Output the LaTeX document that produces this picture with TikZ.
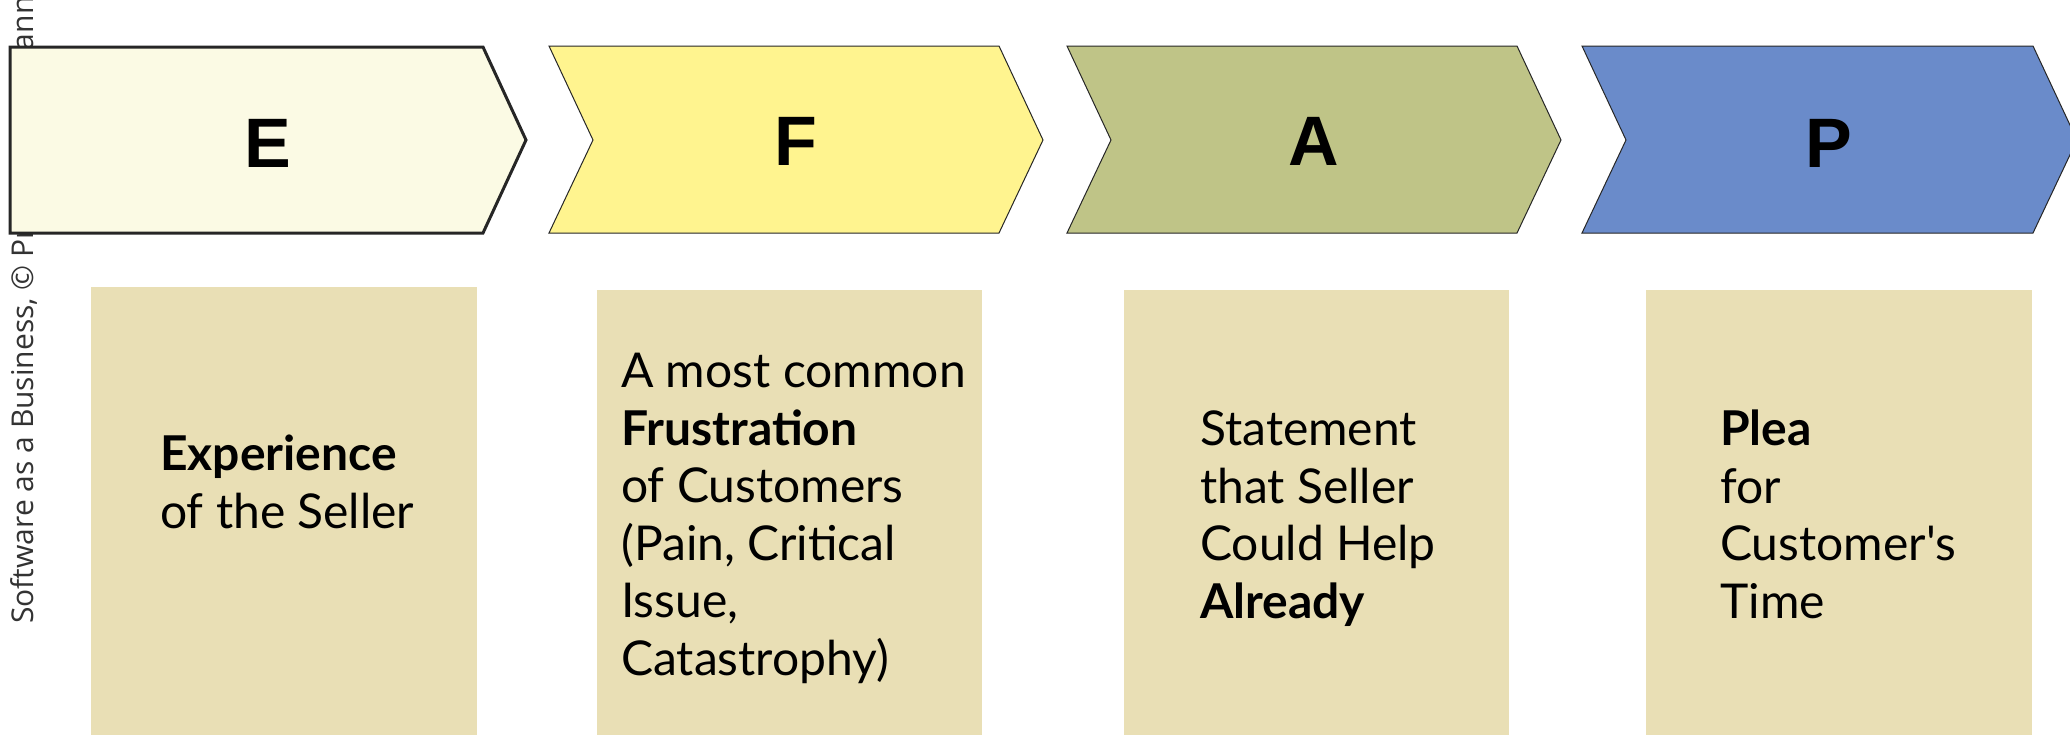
\documentclass[tikz,border=0pt]{standalone}
\usepackage{fontspec}
\setmainfont{Lato}[Ligatures=TeXOff]
\newfontfamily\letterfont{Liberation Sans}
\newfontfamily\notefont{Open Sans}
\definecolor{ecol}{HTML}{FBFAE4}
\definecolor{fcol}{HTML}{FFF48F}
\definecolor{acol}{HTML}{BFC487}
\definecolor{pcol}{HTML}{6A8BCA}
\definecolor{boxcol}{HTML}{E9DFB5}
\definecolor{notecol}{HTML}{333333}
\tikzset{
  chev/.style={draw=black!85, line width=1pt, line join=miter},
  letter/.style={font=\letterfont\bfseries\fontsize{70}{84}\selectfont, inner sep=0pt, anchor=base},
  infobox/.style={fill=boxcol},
  infotext/.style={font=\fontsize{48}{57.5}\selectfont, align=left, inner sep=0pt, anchor=base west}
}
\begin{document}
\begin{tikzpicture}[x=1pt,y=-1pt]
\useasboundingbox (0,0) rectangle (2070,734);
\clip (0,0) rectangle (2070,734);
\fill[white] (0,0) rectangle (2070,734);
% side note
\node[font=\notefont\fontsize{30}{36}\selectfont, text=notecol, rotate=90, anchor=base west, inner sep=0pt] (note) at (33,624) {Software as a Business, © Pr\hspace{177pt}ann};
% chevrons
\draw[chev, fill=ecol, line width=3pt] (10,47) -- (483,47) -- (526,140) -- (483,233) -- (10,233) -- cycle;
\draw[chev, fill=fcol] (549,46) -- (999,46) -- (1043,140) -- (999,233) -- (549,233) -- (593,140) -- cycle;
\draw[chev, fill=acol] (1067,46) -- (1517,46) -- (1561,140) -- (1517,233) -- (1067,233) -- (1111,140) -- cycle;
\draw[chev, fill=pcol] (1582,46) -- (2033,46) -- (2077,140) -- (2033,233) -- (1582,233) -- (1626,140) -- cycle;
\node[letter] (lE) at (268,167) {E};
\node[letter] (lF) at (796,165) {F};
\node[letter] (lA) at (1314,165) {A};
\node[letter] (lP) at (1829,167) {P};
% boxes
\fill[infobox] (91,287) rectangle (477,740);
\fill[infobox] (597,290) rectangle (982,740);
\fill[infobox] (1124,290) rectangle (1509,740);
\fill[infobox] (1646,290) rectangle (2032,740);
\node[infotext] (tE) at (160,528) {\textbf{Experience}\\of the Seller};
\node[infotext] (tF) at (621,675) {A most common\\\textbf{Frustration}\\of Customers\\(Pain, Critical\\Issue,\\Catastrophy)};
\node[infotext] (tA) at (1200,618) {Statement\\that Seller\\Could Help\\\textbf{Already}};
\node[infotext] (tP) at (1720,618) {\textbf{Plea}\\for\\Customer's\\Time};
\end{tikzpicture}
\end{document}
